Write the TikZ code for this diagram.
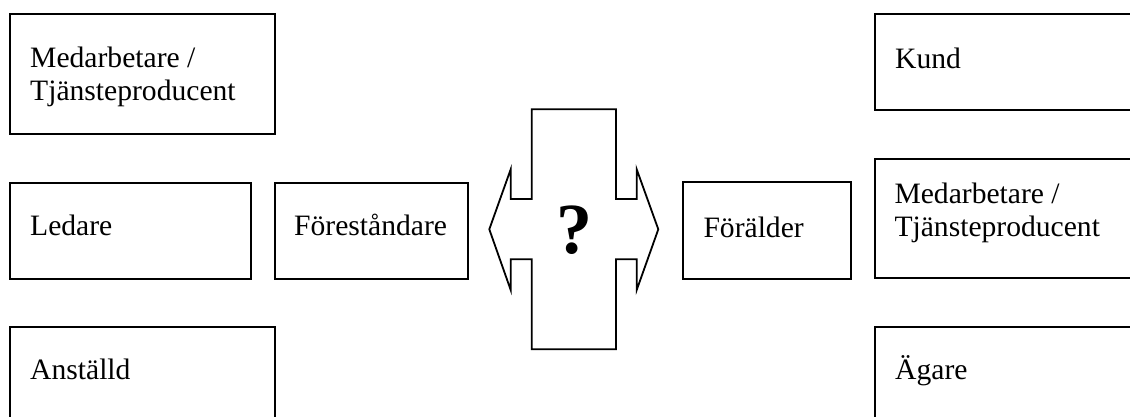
\documentclass[tikz,border=0pt]{standalone}
\usepackage{fontspec}
\setmainfont{Liberation Serif}
\begin{document}
\begin{tikzpicture}[x=1pt,y=-1pt,
  rolebox/.style={draw,line width=1.8pt,inner sep=0pt,anchor=north west},
  roletext/.style={anchor=base west,inner sep=0pt,align=left,
    font=\fontsize{29.6}{33}\selectfont},
  crossline/.style={draw,line width=1.8pt,line join=miter}]
\useasboundingbox (0,0) rectangle (1130,416);

% left column
\node[rolebox,minimum width=264.7pt,minimum height=119.7pt] (medL) at (9.3,13.3) {};
\node[roletext] (medLt) at (30,100.5) {Medarbetare /\\Tjänsteproducent};
\node[rolebox,minimum width=240.7pt,minimum height=96.3pt] (led) at (9.3,182) {};
\node[roletext] (ledt) at (30,235.7) {Ledare};
\node[rolebox,minimum width=264.7pt,minimum height=110pt] (anst) at (9.3,325.7) {};
\node[roletext] (anstt) at (30,379) {Anställd};

% inner boxes next to the cross
\node[rolebox,minimum width=192.7pt,minimum height=96.3pt] (for) at (274,182) {};
\node[roletext] (fort) at (294,235.7) {Föreståndare};
\node[rolebox,minimum width=168.3pt,minimum height=96.4pt] (fal) at (682,181.3) {};
\node[roletext] (falt) at (703.3,237.3) {Förälder};

% right column
\node[rolebox,minimum width=280pt,minimum height=95.7pt] (kund) at (873.7,13.3) {};
\node[roletext] (kundt) at (895,68.3) {Kund};
\node[rolebox,minimum width=280pt,minimum height=119.6pt] (medR) at (873.7,157.7) {};
\node[roletext] (medRt) at (894.3,236.5) {Medarbetare /\\Tjänsteproducent};
\node[rolebox,minimum width=280pt,minimum height=110pt] (agare) at (873.7,325.7) {};
\node[roletext] (agaret) at (895,379) {Ägare};

% cross with double arrow
\draw[crossline]
  (531.7,109.3) -- (616,109.3) -- (616,199) -- (636.7,199) -- (636.7,169.3)
  -- (658.3,229.3) -- (636.7,290) -- (636.7,259.3) -- (616,259.3)
  -- (616,349.3) -- (531.7,349.3) -- (531.7,259.3) -- (510.7,259.3)
  -- (510.7,290) -- (489.3,229.3) -- (510.7,169.3) -- (510.7,199)
  -- (531.7,199) -- cycle;
\node[inner sep=0pt,font=\fontsize{72}{72}\selectfont\bfseries] (q) at (574,229.7) {?};
\end{tikzpicture}
\end{document}
